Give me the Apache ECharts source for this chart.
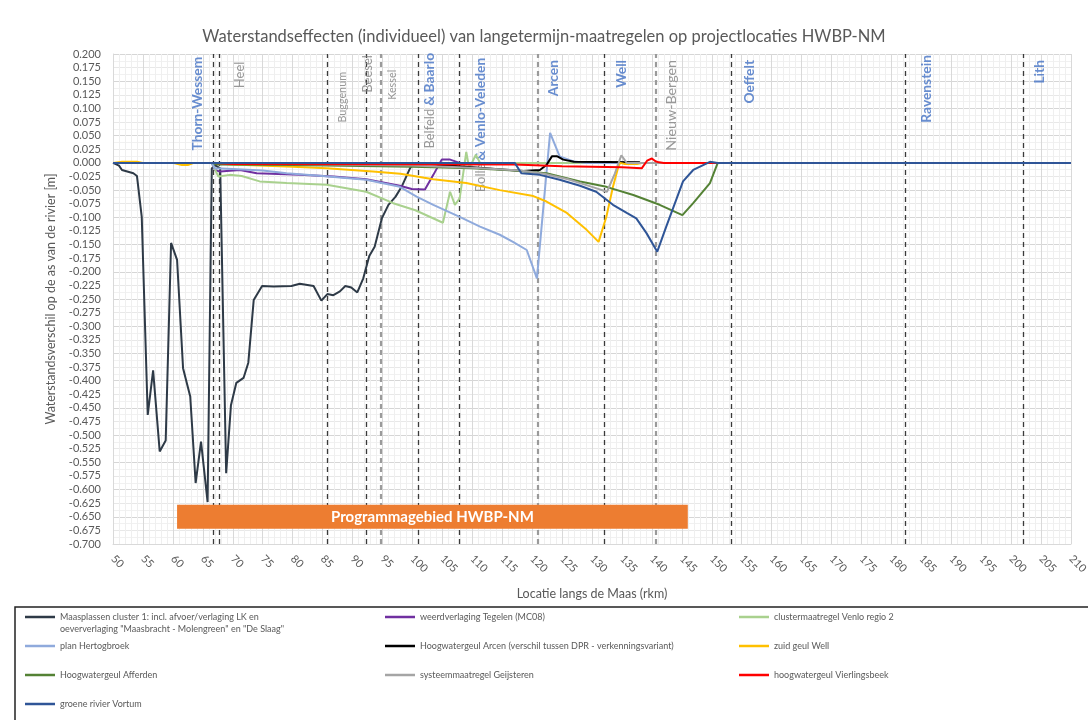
<!DOCTYPE html>
<html>
<head>
<meta charset="utf-8">
<script src="https://cdn.jsdelivr.net/npm/echarts@6/dist/echarts.min.js"></script>
<style>
  html, body { margin: 0; padding: 0; background: #ffffff; }
  #chart { width: 1088px; height: 720px; }
</style>
</head>
<body>
<div id="chart"></div>
<script>
// Waterstandsverschil [m] per rivierkilometer, [rkm, waarde]
const maasplassen = [[50,0],[51,-0.005],[51.5,-0.013],[53.4,-0.019],[54.0,-0.024],[54.8,-0.099],[55.8,-0.463],[56.7,-0.381],[57.8,-0.530],[58.8,-0.510],[59.7,-0.147],[60.7,-0.178],[61.7,-0.377],[62.9,-0.429],[63.8,-0.588],[64.7,-0.512],[65.8,-0.623],[66.5,-0.010],[67.0,-0.004],[67.9,-0.010],[68.9,-0.570],[69.7,-0.445],[70.6,-0.404],[71.8,-0.395],[72.6,-0.367],[73.5,-0.252],[74.9,-0.226],[76.8,-0.227],[79.8,-0.226],[81.2,-0.222],[83.5,-0.226],[84.8,-0.253],[85.8,-0.241],[86.8,-0.243],[87.9,-0.236],[88.8,-0.226],[89.8,-0.229],[90.8,-0.238],[91.8,-0.212],[92.8,-0.171],[93.7,-0.154],[94.9,-0.102],[96.0,-0.077],[97.2,-0.062],[98.2,-0.044],[99.6,-0.010],[100.1,-0.002],[101,0],[210,0]];
const weerdverlagingTegelen = [[50,0],[66.5,0],[67,-0.013],[67.9,-0.016],[71.2,-0.013],[74,-0.019],[81.2,-0.022],[86.8,-0.025],[92.3,-0.030],[97.9,-0.042],[99.9,-0.048],[102.1,-0.049],[103.5,-0.022],[104.9,0.006],[106.3,0.006],[107.9,0],[210,0]];
const clusterVenlo = [[50,0],[66.5,0],[67.6,-0.025],[69.5,-0.022],[71.5,-0.024],[74.5,-0.034],[79,-0.037],[85.7,-0.040],[92.3,-0.053],[96.8,-0.074],[100.5,-0.087],[105.1,-0.110],[106.3,-0.053],[107.1,-0.077],[107.9,-0.065],[109,0.020],[109.5,-0.010],[110.6,0.015],[111.3,0],[210,0]];
const planHertogbroek = [[50,0],[66.5,0],[67,-0.010],[70,-0.011],[75,-0.014],[79,-0.019],[85,-0.024],[92.3,-0.031],[97.9,-0.044],[100.7,-0.062],[103.5,-0.077],[107.9,-0.099],[111.3,-0.117],[114.6,-0.132],[116.8,-0.145],[119.1,-0.160],[120.8,-0.212],[123,0.055],[124.6,0.012],[126.8,0.003],[129,0],[210,0]];
const geulArcen = [[100,0],[105,-0.004],[110,-0.008],[115,-0.012],[118.5,-0.015],[121.3,-0.013],[122.4,-0.004],[123.3,0.012],[124.2,0.012],[125.2,0.006],[127,0.002],[138,0.001]];
const zuidGeulWell = [[50,0],[51.5,0.002],[54,0.002],[55,0],[60,0],[61.5,-0.004],[62.5,-0.004],[63.5,0],[67,0],[70,-0.003],[80,-0.007],[85.7,-0.010],[93.4,-0.016],[98,-0.020],[103.5,-0.030],[109,-0.037],[114.6,-0.050],[120.2,-0.061],[122.4,-0.071],[125.8,-0.092],[129.1,-0.123],[131.1,-0.145],[132.4,-0.099],[133.5,-0.044],[134.4,-0.007],[134.7,0],[135.5,-0.002],[137.5,-0.002],[138.5,0],[210,0]];
const geulAfferden = [[50,0],[66.5,0],[67.5,-0.003],[80,-0.004],[100,-0.007],[110,-0.010],[117,-0.014],[122.4,-0.019],[128,-0.034],[132.4,-0.044],[136.9,-0.059],[141.3,-0.077],[145.1,-0.096],[146.9,-0.074],[149.7,-0.037],[151,0],[210,0]];
const systeemGeijsteren = [[50,0],[67,0],[80,-0.002],[100,-0.005],[110,-0.009],[118,-0.014],[122,-0.020],[126,-0.030],[130,-0.044],[132.5,-0.053],[133.8,-0.020],[134.9,0.014],[135.8,0],[210,0]];
const geulVierlingsbeek = [[50,0],[67,0],[70,-0.002],[117,-0.003],[125,-0.006],[135,-0.008],[138.3,-0.010],[139.2,0.004],[140,0.008],[140.6,0.003],[141.2,0.001],[142,0],[210,0]];
const groeneRivierVortum = [[50,0],[117.1,0],[118.2,-0.019],[121.3,-0.022],[124.6,-0.031],[128,-0.042],[130.7,-0.053],[133.5,-0.077],[135.8,-0.092],[137.4,-0.102],[139.1,-0.129],[140.9,-0.163],[142.4,-0.117],[145.2,-0.034],[146.9,-0.013],[149.7,0.002],[151,0],[210,0]];

const seriesNames = [
  'Maasplassen cluster 1: incl. afvoer/verlaging LK en\noeververlaging "Maasbracht - Molengreen" en "De Slaag"',
  'weerdverlaging Tegelen (MC08)',
  'clustermaatregel Venlo regio 2',
  'plan Hertogbroek',
  'Hoogwatergeul Arcen (verschil tussen DPR - verkenningsvariant)',
  'zuid geul Well',
  'Hoogwatergeul Afferden',
  'systeemmaatregel Geijsteren',
  'hoogwatergeul Vierlingsbeek',
  'groene rivier Vortum'
];
const seriesColors = ['#2e3a47','#7030a0','#a9d18e','#8faadc','#000000','#ffc000','#548235','#a5a5a5','#ff0000','#2f5597'];
const seriesValues = [maasplassen, weerdverlagingTegelen, clusterVenlo, planHertogbroek, geulArcen, zuidGeulWell, geulAfferden, systeemGeijsteren, geulVierlingsbeek, groeneRivierVortum];

// Locaties langs de rivier (rkm) als verticale stippellijnen
const locatieLijnen = [66.7, 67.7, 85.8, 92.3, 101.0, 107.9, 132.1, 153.3, 182.4, 202.0];
const locatieLijnenGrijs = [94.8, 120.9, 140.6];

// Plaatsnamen: [rkm, bovenkant tekst, tekst]
const plaatsNamen = [
  [64.2, 0.195, '{b|Thorn-Wessem}'],
  [71.2, 0.186, '{g13|Heel}'],
  [88.4, 0.167, '{g11|Buggenum}'],
  [92.6, 0.198, '{g13|Beesel}'],
  [96.7, 0.171, '{g11|Kessel}'],
  [102.9, 0.202, '{g13|Belfeld} {b|& Baarlo}'],
  [111.4, 0.193, '{g13|Bolle} {b|& Venlo-Veleden}'],
  [123.5, 0.189, '{b|Arcen}'],
  [135.0, 0.189, '{b|Well}'],
  [143.3, 0.189, '{g14|Nieuw-Bergen}'],
  [156.3, 0.189, '{b|Oeffelt}'],
  [185.9, 0.198, '{b|Ravenstein}'],
  [204.8, 0.189, '{b|Lith}']
];

// Programmagebied: [rkm van, rkm tot, boven, onder]
const programmaGebied = [60.7, 146.0, -0.628, -0.672];
const programmaLabel = 'Programmagebied HWBP-NM';

const xTicks = { min: 50, max: 210, interval: 5 };
const yTicks = { min: -0.7, max: 0.2, interval: 0.025 };

const FONT = 'Lato, "Noto Sans", sans-serif';
const GREY_TEXT = '#595959';
const NAME_GREY = '#808080';
const NAME_BLUE = '#4472c4';

// Legend layout: three columns, four rows
const legendCols = [25, 385, 739];
const legendRows = [617, 646, 675, 704];

const chart = echarts.init(document.getElementById('chart'));

const lineSeries = seriesNames.map((name, i) => ({
  name: name,
  type: 'line',
  data: seriesValues[i],
  showSymbol: false,
  symbol: 'none',
  smooth: false,
  animation: false,
  z: 3 + i,
  lineStyle: { color: seriesColors[i], width: 2 },
  itemStyle: { color: seriesColors[i] }
}));

const markLines = locatieLijnen.map(v => ({
  xAxis: v, lineStyle: { color: '#3a3a3a', type: [5, 4], width: 1.3 }
})).concat(locatieLijnenGrijs.map(v => ({
  xAxis: v, lineStyle: { color: '#9a9a9a', type: [5, 4], width: 2.2 }
})));

const greyStyle = size => ({ color: NAME_GREY, fontSize: size, fontFamily: FONT, fontWeight: 'normal' });

// Plaatsnamen als labels bij onzichtbare punten, met de stippellijnen
const labelSeries = {
  type: 'scatter',
  name: 'plaatsnamen',
  clip: false,
  silent: true,
  animation: false,
  symbolSize: 1,
  itemStyle: { color: 'rgba(0,0,0,0)' },
  z: 2,
  data: plaatsNamen.map(p => ({ value: [p[0], p[1]], tekst: p[2] })),
  label: {
    show: true,
    position: 'inside',
    rotate: 90,
    align: 'right',
    verticalAlign: 'middle',
    fontFamily: FONT,
    formatter: p => p.data.tekst,
    rich: {
      g11: greyStyle(10.8),
      g13: greyStyle(13),
      g14: greyStyle(14.3),
      b: { color: NAME_BLUE, fontSize: 13.8, fontFamily: FONT, fontWeight: 'bold' }
    }
  },
  markLine: {
    silent: true,
    symbol: 'none',
    animation: false,
    z: 2,
    label: { show: false },
    data: markLines
  }
};

// Oranje balk voor het programmagebied, boven de stippellijnen
const gebiedSeries = {
  type: 'line',
  name: 'programmagebied',
  data: [],
  silent: true,
  animation: false,
  z: 20,
  markArea: {
    silent: true,
    animation: false,
    z: 20,
    itemStyle: { color: '#ed7d31', opacity: 1 },
    label: {
      show: true,
      position: 'inside',
      color: '#ffffff',
      fontSize: 15,
      fontWeight: 'bold',
      fontFamily: FONT
    },
    data: [[
      { name: programmaLabel, xAxis: programmaGebied[0], yAxis: programmaGebied[2] },
      { xAxis: programmaGebied[1], yAxis: programmaGebied[3] }
    ]]
  }
};

const legends = seriesNames.map((name, i) => ({
  data: [name],
  left: legendCols[i % 3],
  top: legendRows[Math.floor(i / 3)] - 6,
  padding: 0,
  icon: 'rect',
  itemWidth: 30,
  itemHeight: 2.5,
  selectedMode: false,
  formatter: n => n.split('\n')[0],
  textStyle: { color: GREY_TEXT, fontSize: 9, fontFamily: FONT, lineHeight: 12 }
}));

chart.setOption({
  animation: false,
  backgroundColor: '#ffffff',
  title: {
    text: 'Waterstandseffecten (individueel) van langetermijn-maatregelen op projectlocaties HWBP-NM',
    left: 'center',
    top: 23,
    textStyle: { color: GREY_TEXT, fontSize: 16.5, fontWeight: 'normal', fontFamily: FONT }
  },
  grid: { left: 113, right: 17, top: 54, bottom: 176, outerBoundsMode: 'none', containLabel: false },
  xAxis: {
    type: 'value',
    min: xTicks.min, max: xTicks.max, interval: xTicks.interval,
    name: 'Locatie langs de Maas (rkm)',
    nameLocation: 'middle',
    nameGap: 43,
    nameTextStyle: { color: GREY_TEXT, fontSize: 12.5, fontFamily: FONT },
    axisLine: { show: true, onZero: false, lineStyle: { color: '#d9d9d9' } },
    axisTick: { show: false },
    axisLabel: { rotate: -45, color: GREY_TEXT, fontSize: 11, fontFamily: FONT, margin: 13 },
    splitLine: { show: true, lineStyle: { color: '#d9d9d9', width: 1 } },
    minorTick: { show: false, splitNumber: 5 },
    minorSplitLine: { show: true, lineStyle: { color: '#efefef', width: 1 } }
  },
  yAxis: {
    type: 'value',
    min: yTicks.min, max: yTicks.max, interval: yTicks.interval,
    name: 'Waterstandsverschil op de as van de rivier [m]',
    nameLocation: 'middle',
    nameRotate: 90,
    nameGap: 56,
    nameTextStyle: { color: GREY_TEXT, fontSize: 12.5, fontFamily: FONT },
    axisLine: { show: true, lineStyle: { color: '#d9d9d9' } },
    axisTick: { show: false },
    axisLabel: { color: GREY_TEXT, fontSize: 11, fontFamily: FONT, margin: 12, formatter: v => v.toFixed(3) },
    splitLine: { show: true, lineStyle: { color: ['#d6d6d6', '#e8e8e8'], width: 1 } },
    minorTick: { show: false, splitNumber: 2 },
    minorSplitLine: { show: true, lineStyle: { color: '#f1f1f1', width: 1 } }
  },
  legend: legends,
  graphic: [
    {
      type: 'rect',
      silent: true,
      shape: { x: 15, y: 607, width: 1090, height: 130 },
      style: { fill: 'none', stroke: '#222222', lineWidth: 1.5 }
    },
    {
      type: 'text',
      silent: true,
      left: legendCols[0] + 35,
      top: legendRows[0] + 8,
      style: {
        text: seriesNames[0].split('\n')[1],
        fill: GREY_TEXT,
        font: '9px ' + FONT
      }
    }
  ],
  series: [labelSeries, gebiedSeries].concat(lineSeries)
});
</script>
</body>
</html>
